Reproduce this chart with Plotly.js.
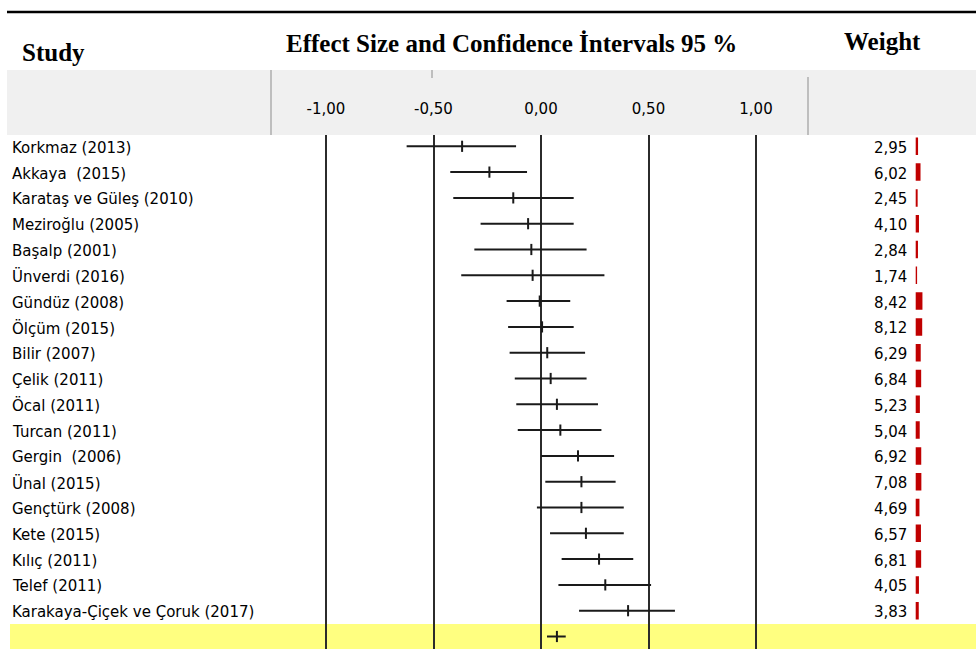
<!DOCTYPE html>
<html>
<head>
<meta charset="utf-8">
<script src="https://cdn.plot.ly/plotly-3.0.1.min.js"></script>
<style>
  html, body { margin: 0; padding: 0; background: #ffffff; }
  #forest { width: 976px; height: 649px; }
</style>
</head>
<body>
<div id="forest"></div>
<script>
// Studies (top to bottom) with effect size, 95% CI bounds and weight (%)
const studies = [
  "Korkmaz (2013)", "Akkaya  (2015)", "Karataş ve Güleş (2010)", "Meziroğlu (2005)",
  "Başalp (2001)", "Ünverdi (2016)", "Gündüz (2008)", "Ölçüm (2015)", "Bilir (2007)",
  "Çelik (2011)", "Öcal (2011)", "Turcan (2011)", "Gergin  (2006)", "Ünal (2015)",
  "Gençtürk (2008)", "Kete (2015)", "Kılıç (2011)", "Telef (2011)",
  "Karakaya-Çiçek ve Çoruk (2017)"
];
const effect = [-0.367, -0.240, -0.129, -0.060, -0.045, -0.039, -0.006, 0.005, 0.029,
                0.045, 0.074, 0.090, 0.172, 0.188, 0.188, 0.209, 0.270, 0.299, 0.405];
const lower  = [-0.625, -0.422, -0.408, -0.281, -0.310, -0.371, -0.160, -0.153, -0.146,
                -0.122, -0.115, -0.108, 0.000, 0.020, -0.019, 0.042, 0.096, 0.081, 0.177];
const upper  = [-0.116, -0.065, 0.152, 0.152, 0.212, 0.295, 0.136, 0.152, 0.205,
                0.212, 0.265, 0.281, 0.340, 0.347, 0.385, 0.385, 0.429, 0.512, 0.623];
const weights = [2.95, 6.02, 2.45, 4.10, 2.84, 1.74, 8.42, 8.12, 6.29, 6.84,
                 5.23, 5.04, 6.92, 7.08, 4.69, 6.57, 6.81, 4.05, 3.83];

// Pooled estimate (bottom row)
const pooledEffect = 0.074;
const pooledLower = 0.028;
const pooledUpper = 0.115;

// Axis ticks
const tickValues = [-1, -0.5, 0, 0.5, 1];
const tickLabels = ["-1,00", "-0,50", "0,00", "0,50", "1,00"];

// ---- page geometry (pixels) ----
const W = 976, H = 649;
const px = v => v / W;            // x pixel -> paper fraction
const py = v => 1 - v / H;        // y pixel -> paper fraction

const rows = studies.map((_, i) => i);
const pooledRow = studies.length;

const fmt = v => v.toFixed(2).replace(".", ",");

const ink = "#1a1a1a";

const studyTrace = {
  type: "scatter",
  mode: "markers",
  x: effect,
  y: rows,
  xaxis: "x", yaxis: "y",
  marker: { symbol: "line-ns", size: 8, line: { width: 2, color: ink }, color: ink },
  error_x: {
    type: "data", symmetric: false,
    array: upper.map((u, i) => u - effect[i]),
    arrayminus: lower.map((l, i) => effect[i] - l),
    width: 0, thickness: 2, color: ink
  },
  hoverinfo: "skip", showlegend: false
};

const pooledTrace = {
  type: "scatter",
  mode: "markers",
  x: [pooledEffect],
  y: [pooledRow],
  xaxis: "x", yaxis: "y",
  marker: { symbol: "line-ns", size: 8, line: { width: 2, color: ink }, color: ink },
  error_x: {
    type: "data", symmetric: false,
    array: [pooledUpper - pooledEffect],
    arrayminus: [pooledEffect - pooledLower],
    width: 0, thickness: 2, color: ink
  },
  hoverinfo: "skip", showlegend: false
};

const weightTrace = {
  type: "bar",
  orientation: "h",
  x: weights,
  y: rows,
  base: 0,
  width: 0.68,
  xaxis: "x2", yaxis: "y",
  marker: { color: "#c00000", line: { width: 0 } },
  hoverinfo: "skip", showlegend: false
};

// plot body spans y pixels 135..649; rows are 25.8 px apart starting at 146.3
const bodyTop = 135;
const row0 = 146.3, rowStep = 25.8;
const yRange = [(H - row0) / rowStep, (bodyTop - row0) / rowStep];

// effect-size scale: 0 at x=541 px, 215 px per unit
const zeroPx = 541, unitPx = 215;
const xRange = [(0 - zeroPx) / unitPx, (W - zeroPx) / unitPx];

// weight bars start at x=915.7 px, 0.8 px per weight unit
const wDomain = [0.8, 1];
const barStart = 915.7, wUnit = 0.8;
const x2Range = [-(barStart - W * wDomain[0]) / wUnit, (W - barStart) / wUnit];

const annotations = [];

// header titles
const headFont = { family: "Liberation Serif, Times New Roman, serif", size: 25, weight: 700, color: "#000" };
annotations.push({ xref: "paper", yref: "paper", x: px(20), y: py(52), xanchor: "left", yanchor: "middle",
  text: "Study", showarrow: false, font: headFont });
annotations.push({ xref: "paper", yref: "paper", x: px(511.5), y: py(43), xanchor: "center", yanchor: "middle",
  text: "Effect Size and Confidence İntervals 95 %", showarrow: false, font: headFont });
annotations.push({ xref: "paper", yref: "paper", x: px(882.5), y: py(42), xanchor: "center", yanchor: "middle",
  text: "Weight", showarrow: false, font: headFont });

const rowFont = { family: "DejaVu Sans, Verdana, sans-serif", size: 15, color: "#000" };

// study names
studies.forEach((s, i) => {
  annotations.push({ xref: "paper", yref: "y", x: px(10), y: i, xanchor: "left", yanchor: "middle",
    yshift: -1.5, text: s, showarrow: false, font: rowFont });
});

// weight values, right-aligned just left of the bars
weights.forEach((w, i) => {
  annotations.push({ xref: "x2", yref: "y", x: -7 / wUnit, y: i, xanchor: "right", yanchor: "middle",
    yshift: -1.5, text: fmt(w), showarrow: false, font: rowFont });
});

const shapes = [
  // top rule
  { type: "line", xref: "paper", yref: "paper", x0: px(7), x1: 1, y0: py(12), y1: py(12),
    line: { color: "#000", width: 2.5 }, layer: "above" },
  // grey scale band
  { type: "rect", xref: "paper", yref: "paper", x0: px(7), x1: 1, y0: py(135), y1: py(70),
    fillcolor: "#f0f0f0", line: { width: 0 }, layer: "below" },
  // separators inside the band
  { type: "line", xref: "paper", yref: "paper", x0: px(271), x1: px(271), y0: py(135), y1: py(70),
    line: { color: "#8c8c8c", width: 1 }, layer: "above" },
  { type: "line", xref: "paper", yref: "paper", x0: px(808), x1: px(808), y0: py(135), y1: py(77),
    line: { color: "#8c8c8c", width: 1 }, layer: "above" },
  { type: "line", xref: "paper", yref: "paper", x0: px(432), x1: px(432), y0: py(78), y1: py(70),
    line: { color: "#8c8c8c", width: 1 }, layer: "above" },
  // pooled row band
  { type: "rect", xref: "paper", yref: "paper", x0: px(10), x1: 1, y0: 0, y1: py(624),
    fillcolor: "#ffff80", line: { width: 0 }, layer: "below" }
];

const layout = {
  width: W, height: H,
  margin: { l: 0, r: 0, t: 0, b: 0, pad: 0 },
  paper_bgcolor: "#ffffff",
  plot_bgcolor: "rgba(0,0,0,0)",
  showlegend: false,
  xaxis: {
    domain: [0, 1],
    range: xRange,
    tickmode: "array", tickvals: tickValues, ticktext: tickLabels,
    side: "top", anchor: "free", position: py(117),
    ticks: "", showline: false, zeroline: false,
    showgrid: true, gridcolor: "#2b2b2b", gridwidth: 2,
    tickfont: { family: "DejaVu Sans, Verdana, sans-serif", size: 15, color: "#000" },
    fixedrange: true
  },
  xaxis2: {
    domain: wDomain, range: x2Range, anchor: "y",
    showgrid: false, zeroline: false, showline: false, showticklabels: false, ticks: "",
    fixedrange: true
  },
  yaxis: {
    domain: [0, py(bodyTop)],
    range: yRange,
    showgrid: false, zeroline: false, showline: false, showticklabels: false, ticks: "",
    fixedrange: true
  },
  annotations: annotations,
  shapes: shapes
};

Plotly.newPlot("forest", [weightTrace, studyTrace, pooledTrace], layout,
  { displayModeBar: false, staticPlot: true });
</script>
</body>
</html>
